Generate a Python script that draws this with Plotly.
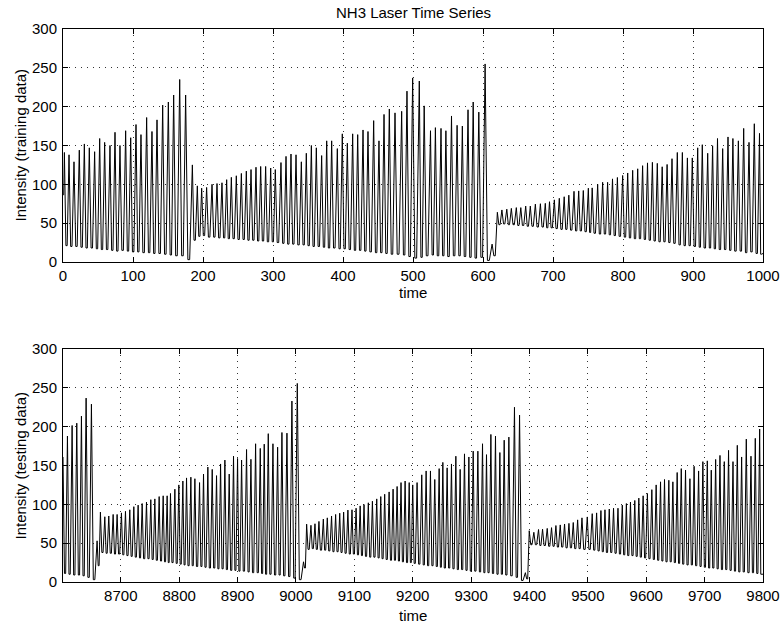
import plotly.graph_objects as go

# ---------------- training data (time 1..1000): peak times, peak values, trough value after each peak
train_start = (1, 86)
train_end = (1000, 11)
train_peak_t = [
    2, 8.6, 15.7, 23.3, 30.5, 37.6, 45.2, 52.4, 59.5, 67.1,
    74.3, 81.4, 89.5, 96.7, 104.3, 111.4, 119.5, 127.1, 134.3, 142.4,
    150.5, 158.1, 166.7, 175.2, 184.8,
    191.9, 198.1, 205.2, 212.9, 220, 227.1, 233.8, 240.5, 247.6, 254.8,
    261.9, 268.6, 275.7, 282.4, 289.5, 296.7, 303.3, 311.4, 318.6, 325.7,
    332.9, 340.5, 347.6, 354.8, 361.9, 369.5, 376.7, 383.8, 391.9, 399,
    406.2, 413.8, 421, 428.6, 435.7, 443.8, 451.4, 458.6, 466.2, 474.3,
    483.8, 491.4, 499.5, 509, 516, 525, 532, 540, 547, 555,
    563, 570.5, 578.6, 586, 594, 603, 613,
    620.5, 627, 634, 640.5, 647.6, 654, 661, 667.6, 674.8, 682,
    689, 695, 701.9, 709, 716, 722.6, 730, 736.7, 743.3, 750.5,
    756, 763.8, 770.9, 778, 785, 792, 799.5, 806.7, 813.8, 821,
    828, 835, 842, 849, 856, 863, 870, 877.6, 884.8, 892,
    899, 906.7, 913.3, 921, 928, 935, 942.4, 950, 957, 964.8,
    972.4, 980, 987.6, 995,
]
train_peak_v = [
    141, 138, 129, 144, 152, 147, 142, 159, 154, 150,
    167, 150, 169, 160, 177, 164, 186, 168, 183, 202,
    206, 215, 235, 215, 125,
    98, 95, 96, 100, 101, 102, 106, 109, 111, 114,
    117, 119, 122, 123, 123, 121, 119, 128, 136, 139,
    138, 129, 140, 150, 147, 137, 156, 156, 146, 165,
    153, 165, 164, 170, 168, 182, 156, 190, 197, 192,
    194, 220, 237, 233, 201, 169, 173, 172, 169, 188,
    176, 175, 196, 206, 193, 255, 23,
    64, 67, 68, 69, 70, 70, 72, 72, 74.5, 75,
    75.5, 77.6, 80, 82, 84, 86, 91, 91.5, 92, 95,
    95.4, 100, 102.6, 102.6, 107, 108.8, 111.4, 114.6, 118, 120,
    124, 127.6, 128.3, 127, 122.6, 125.6, 133, 141, 141, 134,
    134, 147, 151, 140, 149.7, 159, 146, 161, 159, 156,
    172, 154, 178, 165.6,
]
train_trough_v = [
    21, 20, 20, 19, 18, 18, 17, 16, 16, 15,
    14, 15, 14, 13, 13, 12, 12, 11, 11, 10,
    9, 8, 8, 3, 28,
    33, 34, 32, 32, 31, 31, 30, 30, 29, 29,
    28, 28, 27, 27, 26, 26, 25, 24, 23, 23,
    22, 22, 21, 20, 20, 19, 18, 18, 17, 17,
    16, 15, 15, 14, 13, 12, 12, 11, 10, 10,
    9, 7, 5, 6, 8, 9, 8, 8, 7, 8,
    8, 7, 6, 5, 6, 2, 8,
    48, 49, 48, 48, 47, 47, 46, 46, 45, 45,
    44, 44, 43, 42, 42, 41, 40, 40, 39, 38,
    37, 36, 36, 35, 34, 33, 32, 31, 30, 30,
    29, 28, 27, 26, 26, 25, 24, 22, 21, 21,
    20, 19, 18, 18, 17, 16, 16, 15, 14, 14,
    12, 13, 11, 10,
]

# ---------------- testing data (time 8601..9800)
test_start = None
test_end = (9800, 10)
test_peak_t = [
    8601, 8608.6, 8616.6, 8624.6, 8632.6, 8640.6, 8649.7, 8659.4,
    8665.1, 8672.6, 8679.4, 8686.9, 8693.7, 8701.1, 8708, 8715.4, 8722.3, 8729.7,
    8736.6, 8744, 8751.4, 8758.3, 8765.7, 8772.6, 8779.4, 8785.1, 8792.6, 8799.4,
    8806.3, 8812.6, 8820, 8826.9, 8834.9, 8841.7, 8849.1, 8856.6, 8864, 8870.9,
    8878.3, 8885.7, 8893.1, 8900, 8906.9, 8915.4, 8922.9, 8930.9, 8938.9, 8945.7,
    8952.6, 8960.6, 8968.6, 8976, 8984.6, 8993.1, 9002.3, 9013,
    9018.3, 9025.7, 9032.6, 9039.4, 9046.9, 9053.7, 9061, 9068, 9075, 9081.7,
    9089, 9096, 9103, 9110, 9116.6, 9124, 9131, 9138.4, 9145.3, 9152,
    9159.6, 9166.4, 9173.3, 9180, 9187, 9194, 9200, 9207.5, 9215.5, 9223,
    9230.4, 9237.8, 9245.3, 9251.6, 9259, 9266.4, 9273.9, 9281.3, 9288.7, 9296.2,
    9303.6, 9311.6, 9319.6, 9326.4, 9333.9, 9341.8, 9349.3, 9356.7, 9364.7, 9374.3,
    9383, 9393,
    9399.6, 9407.5, 9415.5, 9422.4, 9430.4, 9437.8, 9445.3, 9452.7, 9460.1, 9467.6,
    9475, 9482.5, 9489.9, 9499, 9507.5, 9515, 9522.4, 9529.3, 9536.7, 9544,
    9551.6, 9559, 9566, 9573, 9580.4, 9587.3, 9594.7, 9602, 9609.6, 9617,
    9624.5, 9631.3, 9638.7, 9645.6, 9653, 9660, 9667.3, 9674.8, 9682, 9689.7,
    9697, 9704.6, 9711.4, 9718.9, 9726.3, 9733.7, 9741, 9748.6, 9756, 9763.4,
    9771.4, 9779.4, 9786.8, 9794.3,
]
test_peak_v = [
    161, 188, 201.5, 204.5, 213.6, 236.8, 229, 53,
    90, 84, 85, 87, 87, 89, 91, 93, 97, 99,
    101, 103, 106, 107, 110, 111, 111, 114, 119.5, 125,
    130, 134, 135, 133, 128, 139, 148, 145, 137, 152,
    157, 139, 162, 159, 157, 170.6, 158, 178, 172, 177.5,
    191, 178, 173.6, 192.5, 191.7, 233, 255.7, 26,
    74.5, 73, 75, 78, 81, 82.6, 85, 87, 88.6, 90,
    92.6, 93, 95, 98, 99.7, 102, 104, 107, 110, 113,
    116, 119.6, 123, 128, 130, 128, 125, 128, 138, 143,
    143, 132, 146, 154, 147, 152, 162, 145, 165, 161,
    168.5, 168.5, 178, 164, 190, 188, 166.7, 182.6, 186.6, 225,
    215, 12,
    66, 64, 67.6, 68, 69, 70, 72.7, 73.5, 74.7, 75.5,
    76.6, 80, 82.6, 83.8, 88, 89, 92, 93, 94, 95,
    95, 99, 101, 103, 105, 108, 111, 114, 118.9, 125,
    129, 132, 131, 129, 141, 146, 144, 133, 149, 143,
    155, 156, 144, 157.8, 163, 155, 169.5, 155, 176, 161,
    184, 162, 185, 197,
]
test_trough_v = [
    11, 10, 9, 9, 8, 6, 3, 21,
    38, 37, 37, 36, 36, 35, 34, 33, 32, 31,
    30, 30, 29, 28, 27, 26, 25, 25, 24, 23,
    22, 21, 21, 20, 20, 19, 18, 18, 17, 17,
    16, 15, 15, 14, 14, 13, 12, 12, 11, 10,
    10, 9, 9, 8, 7, 5, 3, 18,
    42, 43, 42, 41, 41, 40, 39, 39, 38, 37,
    36, 36, 35, 34, 33, 32, 32, 31, 30, 29,
    28, 28, 27, 26, 25, 25, 24, 23, 22, 21,
    21, 20, 19, 18, 18, 17, 16, 16, 15, 14,
    14, 13, 12, 12, 11, 10, 10, 9, 8, 6,
    2, 4,
    48, 48, 47, 47, 46, 46, 45, 45, 44, 44,
    43, 43, 42, 42, 41, 40, 39, 38, 38, 37,
    36, 35, 34, 34, 33, 32, 31, 30, 29, 28,
    27, 26, 26, 25, 24, 23, 22, 22, 21, 20,
    19, 18, 18, 17, 16, 16, 15, 14, 13, 13,
    12, 12, 11, 10,
]

x_ticks_train = list(range(0, 1001, 100))
x_ticks_test = list(range(8700, 9801, 100))
y_ticks = list(range(0, 301, 50))


def build(peak_t, peak_v, trough_v, start, end):
    assert len(peak_t) == len(peak_v) == len(trough_v), (len(peak_t), len(peak_v), len(trough_v))
    xs, ys = [], []
    if start:
        xs.append(start[0]); ys.append(start[1])
    n = len(peak_t)
    for i in range(n):
        xs.append(peak_t[i]); ys.append(peak_v[i])
        nxt = peak_t[i + 1] if i < n - 1 else end[0]
        dt = nxt - peak_t[i]
        xs += [peak_t[i] + 0.33 * dt, peak_t[i] + 0.6 * dt]
        ys += [trough_v[i], trough_v[i]]
    xs.append(end[0]); ys.append(end[1])
    return xs, ys


tx, ty = build(train_peak_t, train_peak_v, train_trough_v, train_start, train_end)
bx, by = build(test_peak_t, test_peak_v, test_trough_v, test_start, test_end)

FONT = "Liberation Sans, Arial, Helvetica, sans-serif"
fig = go.Figure()
fig.add_trace(go.Scatter(x=tx, y=ty, mode="lines", line=dict(color="black", width=1),
                         xaxis="x", yaxis="y", showlegend=False, hoverinfo="skip"))
fig.add_trace(go.Scatter(x=bx, y=by, mode="lines", line=dict(color="black", width=1),
                         xaxis="x2", yaxis="y2", showlegend=False, hoverinfo="skip"))

axis_common = dict(
    showline=True, linecolor="black", linewidth=1, mirror="ticks",
    ticks="inside", ticklen=5, tickcolor="black", tickwidth=1,
    showgrid=True, gridcolor="#333333", griddash="1px,5px", gridwidth=1,
    zeroline=False, automargin=False,
    tickfont=dict(family=FONT, size=15, color="black"),
)

fig.update_layout(
    width=784, height=624,
    margin=dict(l=63, r=21, t=29, b=42),
    paper_bgcolor="white", plot_bgcolor="white",
    xaxis=dict(domain=[0, 1], anchor="y", range=[0, 1000], tickvals=x_ticks_train,
               ticktext=[str(v) for v in x_ticks_train], ticklabelstandoff=0, **axis_common),
    yaxis=dict(domain=[0.5787, 1], anchor="x", range=[0, 300], tickvals=y_ticks,
               ticktext=[str(v) for v in y_ticks], ticklabelstandoff=2, **axis_common),
    xaxis2=dict(domain=[0, 1], anchor="y2", range=[8601, 9800], tickvals=x_ticks_test,
                ticktext=[str(v) for v in x_ticks_test], ticklabelstandoff=0, **axis_common),
    yaxis2=dict(domain=[0, 0.4213], anchor="x2", range=[0, 300], tickvals=y_ticks,
                ticktext=[str(v) for v in y_ticks], ticklabelstandoff=2, **axis_common),
)

# text placed by pixel position, converted to paper coords
pw, ph = 784 - 63 - 21, 624 - 29 - 42
texts = [
    ("NH3 Laser Time Series", 413, 12.5, 0),
    ("time", 413, 292, 0),
    ("time", 413, 615, 0),
    ("Intensity (training data)", 20, 145.5, -90),
    ("Intensity (testing data)", 20, 465.5, -90),
]
fig.update_layout(annotations=[
    dict(text=t, xref="paper", yref="paper", x=(x - 63) / pw, y=(624 - 42 - y) / ph,
         xanchor="center", yanchor="middle", showarrow=False, textangle=a,
         font=dict(family=FONT, size=15, color="black"))
    for t, x, y, a in texts
])

fig.write_html("out.html")
